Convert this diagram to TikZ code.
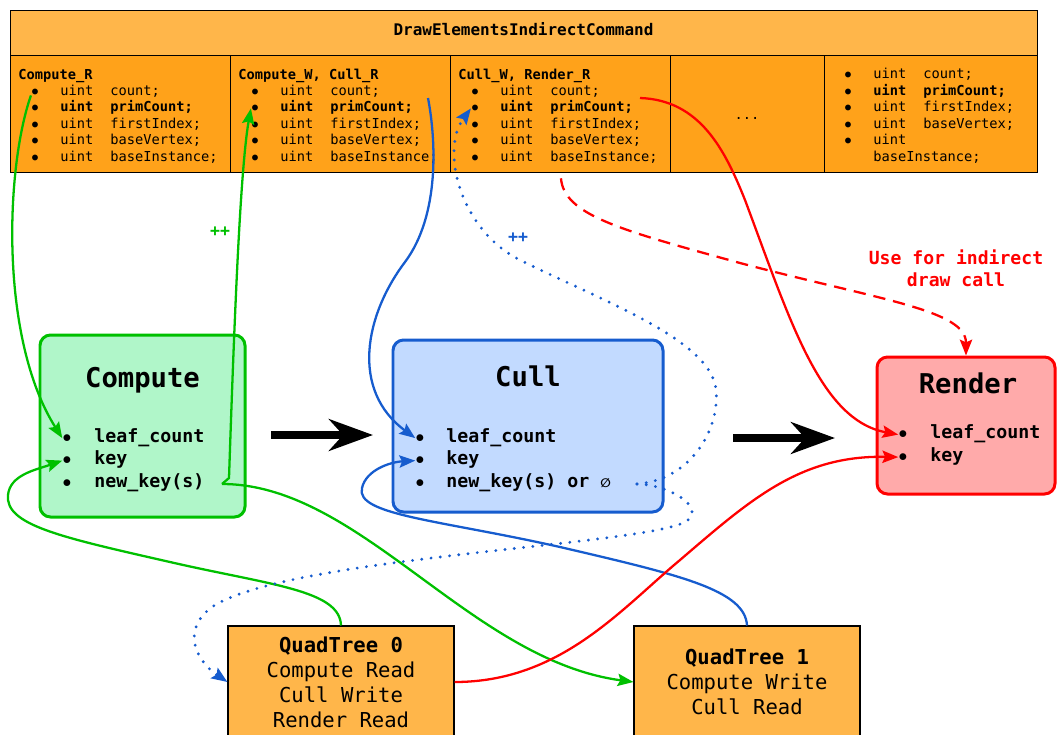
\documentclass[tikz,border=0pt]{standalone}
\usepackage{fontspec}
\setmonofont{DejaVu Sans Mono}
\newfontfamily\symbfont{DejaVu Sans}
\usetikzlibrary{arrows.meta}

\definecolor{hdrorange}{RGB}{255,182,74}
\definecolor{cellorange}{RGB}{255,162,26}
\definecolor{cmpgreen}{RGB}{0,192,0}
\definecolor{cmpfill}{RGB}{176,246,201}
\definecolor{cullblue}{RGB}{22,92,206}
\definecolor{cullfill}{RGB}{194,218,255}
\definecolor{rndred}{RGB}{255,0,0}
\definecolor{rndfill}{RGB}{255,170,170}

\begin{document}
\begin{tikzpicture}[
x=0.2mm, y=-0.2mm,
cell/.style={draw, line width=0.6pt, anchor=north west, inner sep=0pt, fill=cellorange},
fld/.style={anchor=base west, inner sep=0pt, font=\ttfamily\fontsize{7.8}{9}\selectfont},
fldb/.style={fld, font=\ttfamily\bfseries\fontsize{7.8}{9}\selectfont},
stage/.style={draw, rounded corners=6pt, line width=1.7pt},
stagettl/.style={anchor=base, inner sep=0pt, font=\ttfamily\bfseries\fontsize{15.5}{18}\selectfont},
itm/.style={anchor=base west, inner sep=0pt, font=\ttfamily\bfseries\fontsize{10.4}{12}\selectfont},
qt/.style={draw, line width=0.6pt, fill=hdrorange, minimum width=45.2mm, minimum height=22.4mm, align=center, font=\ttfamily\fontsize{11.7}{14.2}\selectfont},
flow/.style={line width=1.3pt, -{Stealth[length=9pt,width=7pt,inset=1.5pt]}},
dots/.style={line width=1.8pt, line cap=round, dash pattern=on 0pt off 5.3pt},
bigarrow/.style={line width=4.3pt, -{Stealth[length=25pt,width=18pt,inset=8pt]}}
]
\useasboundingbox (0,0) rectangle (1057,734);
\clip (0,0) rectangle (1057,734);

% ---------- TOP: COMMAND TABLE ----------
\node[cell, fill=hdrorange, minimum width=205.4mm, minimum height=9mm] (hdr) at (10,10) {};
\node[anchor=base, inner sep=0pt, font=\ttfamily\bfseries\fontsize{9.1}{11}\selectfont] (hdrt) at (523.5,35) {DrawElementsIndirectCommand};

\node[cell, minimum width=44mm, minimum height=23.4mm] (cell1) at (10,55) {};
\node[cell, minimum width=44mm, minimum height=23.4mm] (cell2) at (230,55) {};
\node[cell, minimum width=44mm, minimum height=23.4mm] (cell3) at (450,55) {};
\node[cell, minimum width=30.8mm, minimum height=23.4mm] (cell4) at (670,55) {};
\node[cell, minimum width=42.6mm, minimum height=23.4mm] (cell5) at (824,55) {};

% cell titles
\node[fldb] (ttl1) at (18,79) {Compute\_R};
\node[fldb] (ttl2) at (238,79) {Compute\_W, Cull\_R};
\node[fldb] (ttl3) at (458,79) {Cull\_W, Render\_R};

% fields
\foreach \cx [count=\c] in {0,220,440} {
  \foreach \w/\fs [count=\k] in {count;/\mdseries, primCount;/\bfseries, firstIndex;/\mdseries, baseVertex;/\mdseries, baseInstance;/\mdseries} {
    \node[fld, anchor=base] (b\c\k) at (35+\cx, 78.6+16.5*\k) {$\bullet$};
    \node[fld] (u\c\k) at (60+\cx, 78.6+16.5*\k) {\fs uint};
    \node[fld] (w\c\k) at (110+\cx, 78.6+16.5*\k) {\fs\w};
  }
}

\node[fld, anchor=base] (more) at (747,119) {...};

\foreach \w/\fs [count=\k from 0] in {count;/\mdseries, primCount;/\bfseries, firstIndex;/\mdseries, baseVertex;/\mdseries} {
  \node[fld, anchor=base] (b5\k) at (848, 78.6+16.5*\k) {$\bullet$};
  \node[fld] (u5\k) at (873, 78.6+16.5*\k) {\fs uint};
  \node[fld] (w5\k) at (923, 78.6+16.5*\k) {\fs\w};
}
\node[fld, anchor=base] (b54) at (848,144.6) {$\bullet$};
\node[fld] (u54) at (873,144.6) {uint};
\node[fld] (w54) at (873,161.1) {baseInstance;};

% ---------- STAGES ----------
\node[stage, draw=cmpgreen, fill=cmpfill, minimum width=41mm, minimum height=36.4mm] (cmp) at (142.5,426) {};
\node[stagettl] (cmpt) at (142.5,387) {Compute};
\node[itm, anchor=base] (cmpb1) at (67,442) {$\bullet$};
\node[itm, anchor=base] (cmpb2) at (67,464.5) {$\bullet$};
\node[itm, anchor=base] (cmpb3) at (67,487) {$\bullet$};
\node[itm] (cmpw1) at (94,442) {leaf\_count};
\node[itm] (cmpw2) at (94,464.5) {key};
\node[itm] (cmpw3) at (94,487) {new\_key(s)};

\node[stage, draw=cullblue, fill=cullfill, minimum width=54mm, minimum height=34.4mm] (cull) at (528,426) {};
\node[stagettl] (cullt) at (528,386) {Cull};
\node[itm, anchor=base] (cullb1) at (420,442) {$\bullet$};
\node[itm, anchor=base] (cullb2) at (420,464.5) {$\bullet$};
\node[itm, anchor=base] (cullb3) at (420,487) {$\bullet$};
\node[itm] (cullw1) at (446,442) {leaf\_count};
\node[itm] (cullw2) at (446,464.5) {key};
\node[itm] (cullw3) at (446,487) {new\_key(s) or {\symbfont\fontsize{7}{8}\selectfont ∅}};

\node[stage, draw=rndred, fill=rndfill, minimum width=35.6mm, minimum height=27.4mm] (rnd) at (966,425.5) {};
\node[stagettl] (rndt) at (968,393) {Render};
\node[itm, anchor=base] (rndb1) at (903,438.5) {$\bullet$};
\node[itm, anchor=base] (rndb2) at (903,461) {$\bullet$};
\node[itm] (rndw1) at (930,438.5) {leaf\_count};
\node[itm] (rndw2) at (930,461) {key};

% stage order
\coordinate (a1s) at (271,435);
\coordinate (a1e) at (373,435);
\coordinate (a2s) at (733,438);
\coordinate (a2e) at (835,438);
\draw[bigarrow] (a1s) -- (a1e);
\draw[bigarrow] (a2s) -- (a2e);

% ---------- QUADTREES ----------
\node[qt] (qt0) at (341,682) {\textbf{QuadTree 0}\\Compute Read\\Cull Write\\Render Read};
\node[qt] (qt1) at (747,682) {\textbf{QuadTree 1}\\Compute Write\\Cull Read};

% ---------- CONNECTIONS ----------
\coordinate (cmpout) at (222,484);
\coordinate (cullout) at (637,484);
\coordinate (c2out) at (428,98);
\coordinate (c3out) at (640,98);

% compute
\draw[flow, cmpgreen] (b11.south west) .. controls (5,170) and (0,340) .. (cmpb1.west);
\draw[flow, cmpgreen] (cmpout) -- (229,478) .. controls (234,330) and (240,170) .. (b22.west);
\draw[flow, cmpgreen] (cmpout) .. controls (360,484) and (470,660) .. (qt1.west);
\draw[flow, cmpgreen] (qt0.north) .. controls (340,590) and (270,585) .. (170,562)
  .. controls (60,537) and (5,525) .. (8,495) .. controls (10,475) and (35,470) .. (cmpb2.west);
\node[font=\ttfamily\bfseries\fontsize{9.4}{11}\selectfont, text=cmpgreen, inner sep=0pt] (incg) at (220,232) {++};

% cull
\draw[flow, cullblue] (c2out) .. controls (436,140) and (440,215) .. (405,262)
  .. controls (365,315) and (350,390) .. (cullb1.west);
\draw[flow, cullblue] (qt1.north) .. controls (745,590) and (680,575) .. (560,547)
  .. controls (440,520) and (355,515) .. (362,488) .. controls (366,470) and (390,462) .. (cullb2.west);
\draw[flow, cullblue, dots] (cullout) .. controls (690,480) and (720,430) .. (716,390)
  .. controls (712,340) and (600,300) .. (520,260) .. controls (460,230) and (440,150) .. (b32.west);
\draw[flow, cullblue, dots] (cullout) .. controls (665,484) and (705,505) .. (688,520)
  .. controls (660,545) and (300,555) .. (215,605) .. controls (180,628) and (195,660) .. (qt0.west);
\node[font=\ttfamily\bfseries\fontsize{9.4}{11}\selectfont, text=cullblue, inner sep=0pt] (incb) at (518,238) {++};

% render
\draw[flow, rndred] (c3out) .. controls (700,100) and (725,150) .. (745,200)
  .. controls (790,320) and (820,420) .. (rndb1.west);
\draw[flow, rndred] (qt0.east) .. controls (560,682) and (620,610) .. (680,560)
  .. controls (750,500) and (800,455) .. (rndb2.west);
\draw[flow, rndred, dash pattern=on 7pt off 4.5pt, shorten <=3pt] (cell3.south) .. controls (564,215) and (620,230) .. (740,263)
  .. controls (880,300) and (966,310) .. (rnd.north);
\node[align=center, text=rndred, font=\ttfamily\bfseries\fontsize{10.3}{12.5}\selectfont] (usel) at (956,268) {Use for indirect\\draw call};

\end{tikzpicture}
\end{document}
